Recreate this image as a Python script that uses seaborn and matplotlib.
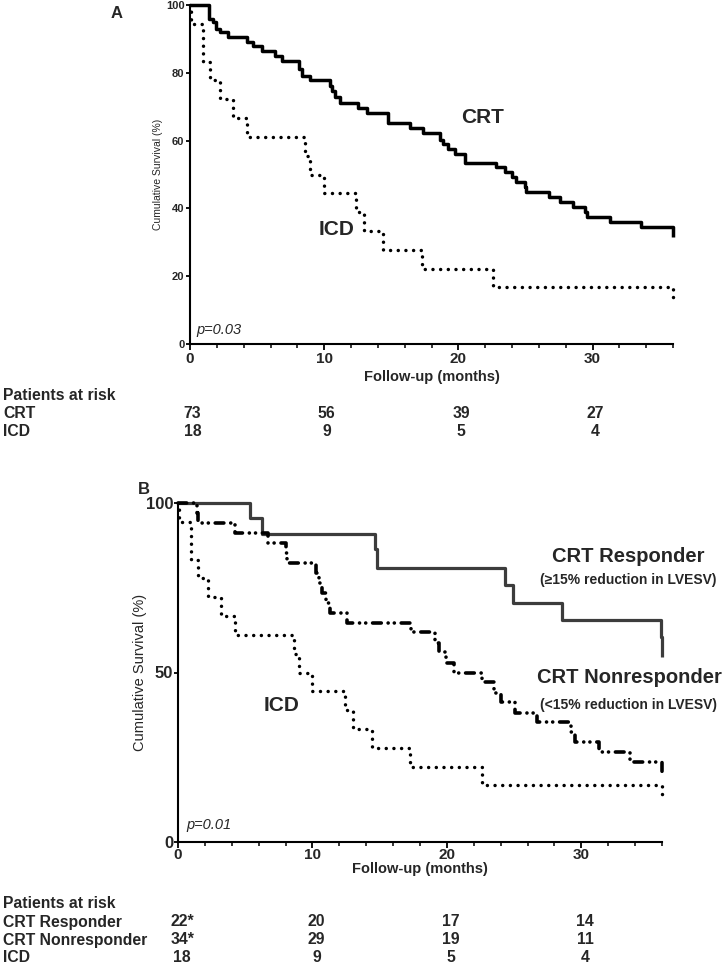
import numpy as np
import pandas as pd
import matplotlib
matplotlib.use("Agg")
import matplotlib.pyplot as plt
import matplotlib.transforms as mtransforms
from matplotlib.ticker import MultipleLocator
import seaborn as sns

sns.set_style("ticks")
plt.rcParams['font.family'] = ['Liberation Sans', 'DejaVu Sans']

# --- Kaplan-Meier step data (months, % surviving) ---
crt_t = [0, 1.44, 1.73, 1.93, 2.23, 2.85, 4.22, 4.72, 5.34, 6.34, 6.83, 8.15, 8.32, 8.94,
         10.43, 10.6, 10.8, 11.18, 12.5, 13.17, 14.78, 16.39, 17.33, 18.63, 18.88, 19.25,
         19.74, 20.49, 22.8, 23.47, 23.97, 24.3, 24.96, 25.08, 26.78, 27.57, 28.56, 29.43,
         29.56, 31.3, 33.65, 35.97, 36.0]
crt_s = [100, 96, 95, 93, 92, 90.5, 89, 87.8, 86.5, 85, 83.5, 81, 79, 78,
         76, 74.5, 73, 71, 69.5, 68, 65.1, 63.6, 62.1, 60.3, 59, 57.5,
         56, 53.5, 52.3, 50.8, 49.4, 47.9, 46.4, 44.9, 43.5, 42, 40.5, 39,
         37.5, 36.1, 34.6, 33.1, 31.5]

icd_t = [0, 0.1, 0.97, 1.0, 1.47, 2.22, 3.22, 4.27, 8.6, 8.97, 9.98, 12.4, 13.0, 14.4,
         17.26, 22.6, 36.0]
icd_s = [100, 94.4, 88.9, 83.3, 77.8, 72.2, 66.7, 61.1, 55.6, 50.0, 44.4, 38.9, 33.3, 27.8,
         22.2, 16.7, 12.0]

resp_t = [0, 5.37, 6.24, 14.68, 14.8, 24.3, 24.9, 28.54, 35.9, 36.0]
resp_s = [100, 95.5, 90.9, 86.4, 80.7, 75.8, 70.6, 65.5, 60.6, 54.7]

nonresp_t = [0, 1.4, 1.5, 4.25, 6.73, 8.0, 8.1, 10.3, 10.5, 10.7, 11.0, 11.33, 12.6, 17.3,
             19.1, 19.4, 19.9, 20.5, 22.6, 23.5, 24.0, 25.1, 26.7, 29.2, 29.5, 31.3, 33.6, 36.0]
nonresp_s = [100, 97.1, 94.1, 91.2, 88.2, 85.3, 82.4, 79.4, 76.5, 73.5, 70.6, 67.6, 64.7, 61.8,
             58.8, 55.9, 52.9, 50.0, 47.1, 44.1, 41.2, 38.2, 35.3, 32.4, 29.4, 26.5, 23.5, 20.5]

# --- Patients at risk ---
risk_times = [0, 10, 20, 30]
risk_a_labels = ["CRT", "ICD"]
risk_a_crt = ["73", "56", "39", "27"]
risk_a_icd = ["18", "9", "5", "4"]
risk_b_labels = ["CRT Responder", "CRT Nonresponder", "ICD"]
risk_b_resp = ["22*", "20", "17", "14"]
risk_b_nonresp = ["34*", "29", "19", "11"]
risk_b_icd = ["18", "9", "5", "4"]

W, H = 728, 965
fig = plt.figure(figsize=(W / 100, H / 100), dpi=100)


def fy(py):
    return 1 - py / H


axA = fig.add_axes([190 / W, fy(344), 483 / W, 339 / H])
axB = fig.add_axes([178 / W, fy(842), 484 / W, 339 / H])

dotted = (0, (0.01, 2.2))
dashdotdot = (0, (2.4, 1.9, 0.01, 1.7, 0.01, 1.9))


def km(ax, t, s, color="black", lw=2.2, ls="-"):
    df = pd.DataFrame({"t": t, "s": s})
    sns.lineplot(data=df, x="t", y="s", ax=ax, drawstyle="steps-post", estimator=None,
                 sort=False, color=color, linewidth=lw, linestyle=ls,
                 dash_capstyle="round", solid_capstyle="butt", clip_on=False)


km(axA, crt_t, crt_s, lw=2.5)
km(axA, icd_t, icd_s, lw=2.5, ls=dotted)

km(axB, resp_t, resp_s, color="#3c3c3c", lw=2.3)
km(axB, nonresp_t, nonresp_s, lw=2.6, ls=dashdotdot)
km(axB, icd_t, icd_s, lw=2.5, ls=dotted)

for ax in (axA, axB):
    ax.set_xlim(0, 36)
    ax.set_ylim(0, 100)
    sns.despine(ax=ax)
    for sp in ("left", "bottom"):
        ax.spines[sp].set_linewidth(1.5)
        ax.spines[sp].set_color("black")
    ax.xaxis.set_major_locator(MultipleLocator(10))
    ax.xaxis.set_minor_locator(MultipleLocator(2))
    ax.tick_params(axis="both", which="major", direction="out", length=4, width=1.3,
                   color="black")
    ax.tick_params(axis="x", which="minor", direction="out", length=3, width=1.1,
                   color="black")
    ax.tick_params(axis="x", labelsize=11, pad=2)
    for lab in ax.get_xticklabels():
        lab.set_fontweight("bold")
    ax.set_xlabel("Follow-up (months)", fontsize=10.5, fontweight="bold")

axA.yaxis.set_major_locator(MultipleLocator(20))
axA.tick_params(axis="y", labelsize=8, pad=1, length=3)
axA.set_ylabel("Cumulative Survival (%)", fontsize=7.5)
axA.yaxis.set_label_coords(-0.056, 0.5)
axA.xaxis.set_label_coords(0.5, -(370 - 344) / 339)

axB.yaxis.set_major_locator(MultipleLocator(50))
axB.tick_params(axis="y", labelsize=12, pad=0.5, length=3)
axB.tick_params(axis="x", pad=0.5)
axB.set_ylabel("Cumulative Survival (%)", fontsize=10.5)
axB.yaxis.set_label_coords(-0.064, 0.5)
axB.xaxis.set_label_coords(0.5, -(862 - 842) / 339)

for ax in (axA, axB):
    for lab in ax.get_yticklabels():
        lab.set_fontweight("bold")

# --- Annotations ---
axA.text(21.8, 66.7, "CRT", fontsize=15, fontweight="bold", ha="center", va="center")
axA.text(10.95, 33.9, "ICD", fontsize=15, fontweight="bold", ha="center", va="center")
axA.text(0.5, 4.1, "p=0.03", fontsize=10.5, style="italic", ha="left", va="center")

axB.text(33.5, 84.1, "CRT Responder", fontsize=14.5, fontweight="bold", ha="center", va="center")
axB.text(33.5, 77.3, "(\u226515% reduction in LVESV)", fontsize=10, fontweight="bold",
         ha="center", va="center")
axB.text(33.6, 48.4, "CRT Nonresponder", fontsize=14.5, fontweight="bold", ha="center", va="center")
axB.text(33.5, 40.4, "(<15% reduction in LVESV)", fontsize=10, fontweight="bold",
         ha="center", va="center")
axB.text(7.7, 40.4, "ICD", fontsize=15, fontweight="bold", ha="center", va="center")
axB.text(0.6, 5.0, "p=0.01", fontsize=10.5, style="italic", ha="left", va="center")

fig.text(117 / W, fy(13), "A", fontsize=12, fontweight="bold", ha="center", va="center")
fig.text(144 / W, fy(490), "B", fontsize=12, fontweight="bold", ha="center", va="center")

# --- Risk tables ---
row_kw = dict(fontsize=11.3, fontweight="bold", va="center")
trA = mtransforms.blended_transform_factory(axA.transData, fig.transFigure)
trB = mtransforms.blended_transform_factory(axB.transData, fig.transFigure)

fig.text(3 / W, fy(395), "Patients at risk", ha="left", **row_kw)
for lab, vals, py in zip(risk_a_labels, [risk_a_crt, risk_a_icd], [414, 432]):
    fig.text(3 / W, fy(py), lab, ha="left", **row_kw)
    for t, v in zip(risk_times, vals):
        fig.text(t + 0.2, fy(py), v, ha="center", transform=trA, **row_kw)

fig.text(3 / W, fy(903), "Patients at risk", ha="left", **row_kw)
for lab, vals, py in zip(risk_b_labels, [risk_b_resp, risk_b_nonresp, risk_b_icd],
                         [922, 940, 958]):
    fig.text(3 / W, fy(py), lab, ha="left", **row_kw)
    for t, v in zip(risk_times, vals):
        fig.text(t + 0.3, fy(py), v, ha="center", transform=trB, **row_kw)

fig.savefig("out.png", dpi=100)
